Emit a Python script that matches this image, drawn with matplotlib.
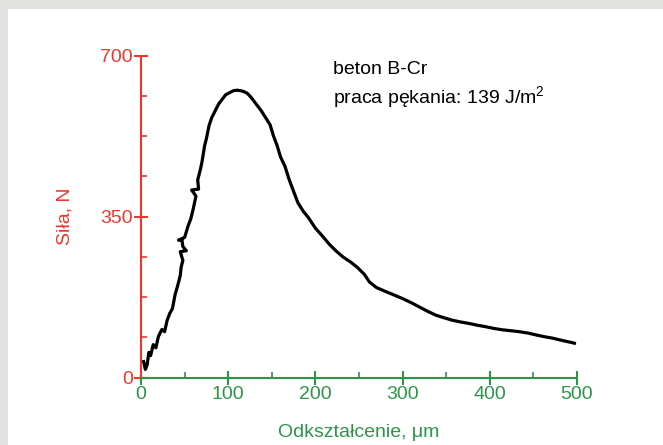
import numpy as np
import matplotlib.pyplot as plt
from matplotlib.patches import Rectangle
from matplotlib.ticker import MultipleLocator

plt.rcParams['font.family'] = ['Liberation Sans', 'DejaVu Sans']
plt.rcParams['mathtext.fontset'] = 'custom'
plt.rcParams['mathtext.rm'] = 'Liberation Sans'

# odczyt z wykresu: odksztalcenie [um] i sila [N]
odksztalcenie = [3, 5, 7, 9, 11, 14, 17, 20, 24, 27, 30, 33, 36, 39, 42, 45, 46, 48,
                 45, 52, 48, 47, 43, 50, 54, 57, 60, 63, 58, 66, 65, 68, 70, 73, 75,
                 78, 81, 85, 89, 93, 97, 102, 106, 110, 114, 118, 122, 126, 130, 134,
                 138, 143, 148, 152, 156, 160, 165, 170, 175, 180, 186, 192, 200, 208,
                 216, 224, 232, 240, 248, 256, 262, 270, 281, 290, 300, 310, 319, 328,
                 338, 348, 357, 367, 376, 386, 395, 405, 415, 425, 434, 444, 453, 463,
                 472, 483, 495, 497]
sila = [35, 18, 28, 55, 48, 72, 65, 90, 105, 100, 125, 140, 150, 180, 200, 222, 240, 255,
        274, 276, 285, 299, 299, 305, 330, 345, 368, 395, 408, 410, 430, 452, 470, 505, 520,
        548, 565, 580, 595, 605, 615, 620, 624, 625, 624, 622, 618, 610, 600, 590,
        580, 565, 550, 525, 505, 480, 460, 430, 405, 380, 362, 348, 325, 308,
        290, 275, 262, 252, 240, 225, 208, 196, 187, 180, 172, 163, 154, 145,
        136, 130, 125, 121, 118, 114, 111, 107, 104, 102, 100, 97, 93, 89,
        86, 81, 76, 75]

red = '#f2352c'
green = '#2b9548'
fs = 14

fig = plt.figure(figsize=(6.63, 4.45), dpi=100)
fig.patch.set_facecolor('#e2e2e0')
fig.patches.append(Rectangle((8 / 663, 0), 1, 436 / 445, transform=fig.transFigure,
                             facecolor='white', edgecolor='none', zorder=-10))

ax = fig.add_axes([0.2127, 0.1512, 0.6576, 0.7236])
ax.set_facecolor('none')
ax.plot(odksztalcenie, sila, color='black', lw=2.3, clip_on=False, zorder=3)

ax.set_xlim(0, 500)
ax.set_ylim(0, 700)
ax.spines['top'].set_visible(False)
ax.spines['right'].set_visible(False)
ax.spines['left'].set_color(red)
ax.spines['bottom'].set_color(green)
ax.spines['left'].set_linewidth(1.5)
ax.spines['bottom'].set_linewidth(1.5)

ax.xaxis.set_major_locator(MultipleLocator(100))
ax.xaxis.set_minor_locator(MultipleLocator(50))
ax.yaxis.set_major_locator(MultipleLocator(350))
ax.yaxis.set_minor_locator(MultipleLocator(87.5))

ax.tick_params(axis='x', which='major', direction='inout', length=10, width=1.5,
               colors=green, labelsize=fs, pad=1)
ax.tick_params(axis='x', which='minor', direction='in', length=4, width=1.2, colors=green)
ax.tick_params(axis='y', which='major', direction='inout', length=10, width=1.5,
               colors=red, labelsize=fs, pad=1)
ax.tick_params(axis='y', which='minor', direction='in', length=4, width=1.2, colors=red)

ax.set_xlabel('Odkształcenie, μm', color=green, fontsize=fs, labelpad=15)
ax.set_ylabel('Siła, N', color=red, fontsize=fs, labelpad=19)

fig.text(333 / 663, 1 - 69 / 445, 'beton B-Cr', fontsize=fs, va='center', ha='left')
fig.text(333 / 663, 1 - 98 / 445, 'praca pękania: 139 J/m$^{\\mathregular{2}}$', fontsize=fs,
         va='center', ha='left')

fig.savefig('out.png', dpi=100)
